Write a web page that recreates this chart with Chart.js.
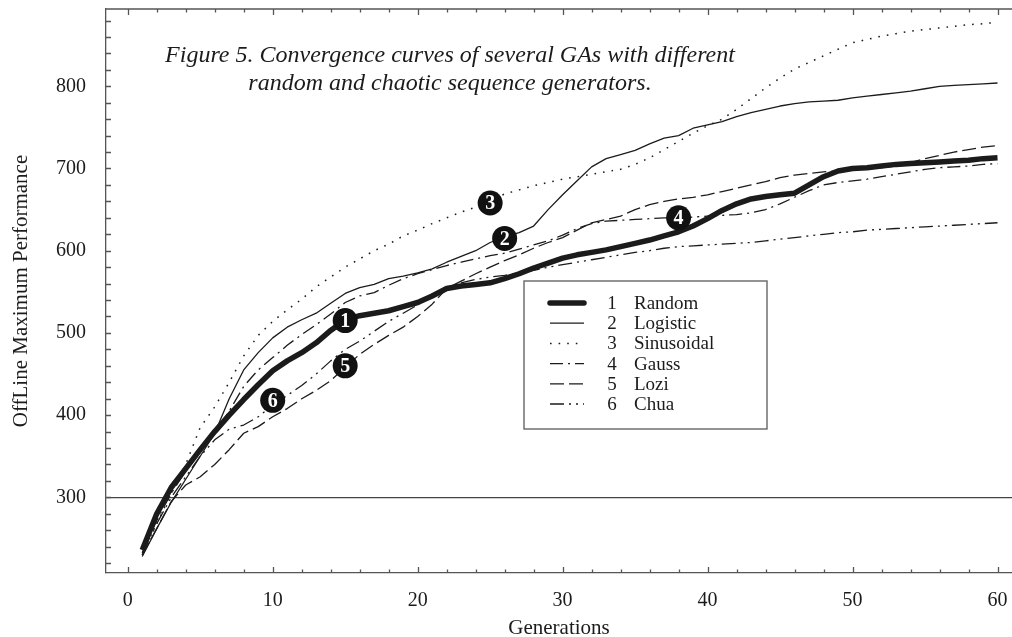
<!DOCTYPE html>
<html>
<head>
<meta charset="utf-8">
<script src="https://cdn.jsdelivr.net/npm/chart.js@4.4.0/dist/chart.umd.min.js"></script>
<style>
  html, body { margin: 0; padding: 0; background: #fff; }
  #wrap { width: 1012px; height: 637px; }
</style>
</head>
<body>
<div id="wrap"><canvas id="gaChart" width="1012" height="637"></canvas></div>
<script>
// generations on the x axis
const generations = [
  1, 2, 3, 4, 5, 6, 7, 8, 9, 10,
  11, 12, 13, 14, 15, 16, 17, 18, 19, 20,
  21, 22, 23, 24, 25, 26, 27, 28, 29, 30,
  31, 32, 33, 34, 35, 36, 37, 38, 39, 40,
  41, 42, 43, 44, 45, 46, 47, 48, 49, 50,
  51, 52, 53, 54, 55, 56, 57, 58, 59, 60
];

// offline maximum performance
const randomSeq = [
  236, 280, 312, 335, 358, 380, 400, 419, 437, 454,
  466, 476, 488, 503, 516, 521, 524, 527, 532, 537,
  545, 554, 557, 559, 561, 566, 572, 579, 585, 591,
  595, 598, 601, 605, 609, 613, 618, 623, 630, 639,
  649, 657, 663, 666, 668, 670, 680, 690, 697, 700,
  701, 703, 705, 706, 707, 708, 709, 710, 712, 713
];
const logisticSeq = [
  228, 262, 294, 322, 350, 378, 420, 455, 476, 494,
  507, 516, 524, 536, 548, 555, 559, 566, 569, 573,
  578, 586, 593, 600, 610, 617, 622, 630, 650, 668,
  685, 702, 712, 717, 722, 730, 737, 740, 749, 753,
  757, 763, 768, 772, 776, 779, 781, 782, 783, 786,
  788, 790, 792, 794, 797, 800, 801, 802, 803, 804
];
const sinusoidalSeq = [
  230, 268, 305, 340, 385, 410, 440, 472, 497, 514,
  528, 541, 556, 568, 580, 590, 600, 608, 618, 625,
  633, 640, 647, 653, 661, 669, 674, 679, 683, 687,
  690, 693, 696, 699, 705, 713, 723, 733, 743, 752,
  760, 772, 785, 798, 810, 821, 829, 837, 845, 853,
  857, 861, 864, 867, 869, 871, 873, 875, 876, 878
];
const gaussSeq = [
  233, 272, 305, 332, 355, 378, 405, 435, 455, 470,
  485, 498, 510, 523, 537, 545, 549, 558, 566, 572,
  577, 582, 586, 590, 594, 597, 602, 607, 612, 619,
  627, 633, 636, 637, 638, 639, 640, 640, 641, 642,
  643, 644, 646, 650, 657, 665, 673, 680, 683, 685,
  687, 690, 693, 696, 699, 701, 702, 703, 705, 706
];
const loziSeq = [
  230, 262, 295, 315, 325, 340, 358, 378, 386, 398,
  408, 420, 430, 442, 458, 474, 486, 497, 507, 520,
  535, 554, 563, 572, 580, 588, 595, 603, 610, 616,
  625, 634, 638, 642, 650, 656, 660, 663, 665, 668,
  672, 676, 680, 684, 689, 692, 694, 696, 697, 699,
  700, 701, 703, 707, 712, 716, 720, 723, 726, 728
];
const chuaSeq = [
  232, 268, 300, 325, 350, 370, 383, 388, 398, 412,
  424, 436, 450, 466, 480, 490, 502, 514, 524, 534,
  545, 555, 561, 565, 568, 570, 573, 576, 580, 583,
  586, 589, 592, 595, 598, 600, 603, 605, 606, 607,
  608, 609, 610, 612, 614, 616, 618, 620, 622, 623,
  625, 626, 627, 628, 629, 630, 631, 632, 633, 634
];

const seriesNumbers = ['1', '2', '3', '4', '5', '6'];
const seriesNames = ['Random', 'Logistic', 'Sinusoidal', 'Gauss', 'Lozi', 'Chua'];

// numbered circles placed on the curves
const markerGens = [15, 26, 25, 38, 15, 10];
const markerValues = [515, 615, 658, 640, 460, 418];
const markerLabels = ['1', '2', '3', '4', '5', '6'];

const xTickValues = [0, 10, 20, 30, 40, 50, 60];
const yTickValues = [300, 400, 500, 600, 700, 800];

const captionLines = [
  'Figure 5. Convergence curves of several GAs with different',
  'random and chaotic sequence generators.'
];

const ink = '#1b1b1b';
const frame = '#555';
const serif = '"Liberation Serif", "Times New Roman", Times, serif';

function makeSet(i, values, width, dash) {
  return {
    label: seriesNumbers[i] + ' ' + seriesNames[i],
    data: generations.map((g, k) => ({ x: g, y: values[k] })),
    borderColor: ink,
    borderWidth: width,
    borderDash: dash,
    borderCapStyle: 'butt',
    borderJoinStyle: 'round',
    pointRadius: 0,
    tension: 0,
    fill: false
  };
}

const frameTicks = {
  id: 'frameTicks',
  afterDraw(chart) {
    const { ctx, chartArea: a, scales: { x, y } } = chart;
    ctx.save();
    ctx.strokeStyle = frame;
    ctx.lineWidth = 1.3;
    ctx.beginPath();
    ctx.moveTo(a.left, a.top);
    ctx.lineTo(a.right, a.top);
    for (let g = 0; g <= 60; g += 2) {
      const px = Math.round(x.getPixelForValue(g)) + 0.5;
      const len = g % 10 === 0 ? 6 : 3.5;
      ctx.moveTo(px, a.bottom);
      ctx.lineTo(px, a.bottom - len);
      ctx.moveTo(px, a.top);
      ctx.lineTo(px, a.top + len);
    }
    for (let v = 220; v <= 880; v += 20) {
      const py = Math.round(y.getPixelForValue(v)) + 0.5;
      ctx.moveTo(a.left, py);
      ctx.lineTo(a.left + 5, py);
    }
    ctx.stroke();
    ctx.restore();
  }
};

const caption = {
  id: 'caption',
  afterDraw(chart) {
    const { ctx, chartArea: a } = chart;
    ctx.save();
    ctx.fillStyle = ink;
    ctx.font = 'italic 24px ' + serif;
    ctx.textAlign = 'center';
    ctx.textBaseline = 'alphabetic';
    captionLines.forEach((t, i) => {
      ctx.fillText(t, a.left + 344, a.top + 53 + i * 28);
    });
    ctx.restore();
  }
};

const markers = {
  id: 'markers',
  afterDatasetsDraw(chart) {
    const { ctx, scales: { x, y } } = chart;
    ctx.save();
    markerLabels.forEach((lab, i) => {
      const px = x.getPixelForValue(markerGens[i]);
      const py = y.getPixelForValue(markerValues[i]);
      ctx.beginPath();
      ctx.arc(px, py, 12.5, 0, Math.PI * 2);
      ctx.fillStyle = '#111';
      ctx.fill();
      ctx.fillStyle = '#fff';
      ctx.font = 'bold 20px ' + serif;
      ctx.textAlign = 'center';
      ctx.textBaseline = 'middle';
      ctx.fillText(lab, px, py + 1);
    });
    ctx.restore();
  }
};

const legendBox = {
  id: 'legendBox',
  afterDraw(chart) {
    const { ctx } = chart;
    const box = { left: 524, top: 281, right: 767, bottom: 429 };
    ctx.save();
    ctx.fillStyle = '#fff';
    ctx.fillRect(box.left, box.top, box.right - box.left, box.bottom - box.top);
    ctx.strokeStyle = '#666';
    ctx.lineWidth = 1.4;
    ctx.strokeRect(box.left, box.top, box.right - box.left, box.bottom - box.top);
    chart.data.datasets.forEach((ds, i) => {
      const rowY = box.top + 22 + i * 20.2;
      ctx.beginPath();
      ctx.strokeStyle = ink;
      ctx.lineWidth = ds.borderWidth;
      ctx.lineCap = i === 0 ? 'round' : 'butt';
      ctx.setLineDash(ds.borderDash || []);
      ctx.moveTo(box.left + 26, rowY);
      ctx.lineTo(box.left + 60, rowY);
      ctx.stroke();
      ctx.setLineDash([]);
      ctx.fillStyle = ink;
      ctx.font = '19px ' + serif;
      ctx.textBaseline = 'middle';
      ctx.textAlign = 'center';
      ctx.fillText(seriesNumbers[i], box.left + 88, rowY + 1);
      ctx.textAlign = 'left';
      ctx.fillText(seriesNames[i], box.left + 110, rowY + 1);
    });
    ctx.restore();
  }
};

new Chart(document.getElementById('gaChart'), {
  type: 'line',
  data: {
    datasets: [
      makeSet(0, randomSeq, 5.5, []),
      makeSet(1, logisticSeq, 1.3, []),
      makeSet(2, sinusoidalSeq, 1.5, [1.6, 7]),
      makeSet(3, gaussSeq, 1.3, [13, 5, 2, 5]),
      makeSet(4, loziSeq, 1.3, [14, 5]),
      makeSet(5, chuaSeq, 1.3, [14, 5, 2, 5, 2, 5])
    ]
  },
  options: {
    responsive: false,
    animation: false,
    layout: { padding: { top: 9, left: 0, right: 0, bottom: 0 } },
    plugins: {
      legend: { display: false },
      tooltip: { enabled: false }
    },
    scales: {
      x: {
        type: 'linear',
        min: -1.5,
        max: 61,
        afterBuildTicks: s => { s.ticks = xTickValues.map(v => ({ value: v })); },
        afterFit: s => { s.height = 64; s.paddingLeft = 0; s.paddingRight = 0; },
        grid: { display: false, drawTicks: false },
        border: { display: true, color: frame, width: 1.3 },
        ticks: {
          font: { family: serif, size: 20 },
          color: ink,
          padding: 16,
          maxRotation: 0,
          autoSkip: false
        },
        title: {
          display: true,
          text: 'Generations',
          color: ink,
          font: { family: serif, size: 21, lineHeight: 0.8 },
          padding: { top: 0, bottom: 0 }
        }
      },
      y: {
        type: 'linear',
        min: 208,
        max: 894,
        afterBuildTicks: s => { s.ticks = yTickValues.map(v => ({ value: v })); },
        afterFit: s => { s.width = 106; s.paddingTop = 0; s.paddingBottom = 0; },
        grid: {
          drawTicks: false,
          color: c => (c.tick && c.tick.value === 300 ? '#444' : 'rgba(0,0,0,0)'),
          lineWidth: 1.3
        },
        border: { display: true, color: frame, width: 1.3 },
        ticks: {
          font: { family: serif, size: 20 },
          color: ink,
          padding: 20
        },
        title: {
          display: true,
          text: 'OffLine Maximum Performance',
          color: ink,
          font: { family: serif, size: 21, lineHeight: 1 },
          padding: { top: 11, bottom: 0 }
        }
      }
    }
  },
  plugins: [frameTicks, markers, caption, legendBox]
});
</script>
</body>
</html>
